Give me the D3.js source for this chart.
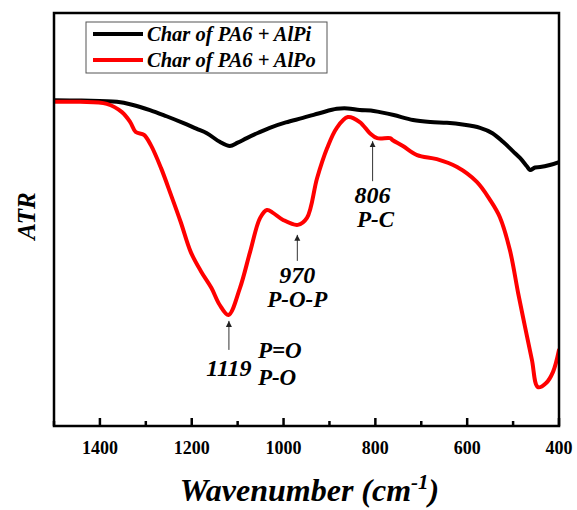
<!DOCTYPE html>
<html><head><meta charset="utf-8">
<script src="https://cdn.jsdelivr.net/npm/d3@7"></script>
<style>body{margin:0;background:#fff}svg{display:block}</style>
</head><body>
<svg id="c" width="577" height="510"></svg>
<script>
// ---- data ----
const seriesNames = ["Char of PA6 + AlPi", "Char of PA6 + AlPo"];
const seriesColors = ["#000000", "#ff0000"];

const wnAlPi  = [1500,1440,1363,1330,1291,1255,1219,1190,1167,1139,1117,1100,1080,1055,1030,995,958,920,884,860,834,810,790,760,718,680,644,610,572,545,522,500,485,470,463,452,441,420,400];
const atrAlPi = [78.9,78.8,78.5,77.8,76.5,75.0,73.4,72.0,70.9,68.8,67.8,68.6,69.7,71.0,72.2,73.5,74.6,75.8,76.8,76.9,76.5,76.4,76.0,75.3,74.1,73.6,73.4,73.0,72.2,70.9,68.8,66.5,64.9,62.9,62.0,62.6,62.7,63.2,63.9];

const wnAlPo  = [1500,1443,1385,1352,1334,1322,1304,1289,1267,1245,1224,1202,1179,1157,1139,1120,1095,1073,1051,1036,1023,1001,969,949,927,905,884,860,834,812,796,768,762,740,709,666,622,579,550,529,507,489,474,459,446,428,413,400];
const atrAlPo = [78.5,78.5,78.0,76.0,73.6,71.2,70.5,68.0,62.5,55.9,49.4,42.1,37.3,33.4,29.3,26.9,33.4,42.1,50.4,52.3,51.6,49.9,48.7,50.4,60.0,67.3,72.2,74.8,73.6,70.9,69.7,69.7,69.2,67.8,65.6,64.6,62.7,59.1,54.7,50.6,42.6,32.2,24.0,16.0,9.4,10.4,13.1,18.4];

const xTicks = [1400,1200,1000,800,600,400];
const xMinorTicks = [1500,1300,1100,900,700,500];

const annWn    = [1119, 970, 806];
const annLabel = ["1119", "970", "806"];
const annGroup = [["P=O","P-O"], ["P-O-P"], ["P-C"]];

// ---- layout ----
const svg = d3.select("#c");
const L = 54, R = 559, T = 13, B = 426;
const x = d3.scaleLinear().domain([1500, 400]).range([L, R]);
const y = d3.scaleLinear().domain([0, 100]).range([B, T]);
const serif = "'Liberation Serif','Times New Roman',serif";

const line = d3.line().x(d => x(d[0])).y(d => y(d[1])).curve(d3.curveCatmullRom.alpha(0.5));
const seriesData = [d3.zip(wnAlPi, atrAlPi), d3.zip(wnAlPo, atrAlPo)];

svg.append("defs").append("clipPath").attr("id","clip")
  .append("rect").attr("x",L).attr("y",T).attr("width",R-L).attr("height",B-T);

const g = svg.append("g").attr("clip-path","url(#clip)");
seriesData.forEach((d,i) => {
  g.append("path").datum(d).attr("d", line)
    .attr("fill","none").attr("stroke",seriesColors[i])
    .attr("stroke-width",4).attr("stroke-linejoin","round").attr("stroke-linecap","round");
});

// frame
svg.append("rect").attr("x",L).attr("y",T).attr("width",R-L).attr("height",B-T)
  .attr("fill","none").attr("stroke","#000").attr("stroke-width",2.5);

// x axis ticks (inward)
const ax = svg.append("g");
xTicks.forEach(t => {
  ax.append("line").attr("x1",x(t)).attr("x2",x(t)).attr("y1",B).attr("y2",B-8)
    .attr("stroke","#000").attr("stroke-width",2.5);
  ax.append("text").attr("x",x(t)).attr("y",B+28).attr("text-anchor","middle")
    .attr("font-family",serif).attr("font-weight","bold").attr("font-size",18).text(t);
});
xMinorTicks.forEach(t => {
  ax.append("line").attr("x1",x(t)).attr("x2",x(t)).attr("y1",B).attr("y2",B-5)
    .attr("stroke","#000").attr("stroke-width",2.5);
});

// axis titles
const xt = svg.append("text").attr("x",(L+R)/2+3).attr("y",501).attr("text-anchor","middle")
  .attr("font-family",serif).attr("font-weight","bold").attr("font-style","italic").attr("font-size",32);
xt.append("tspan").text("Wavenumber (cm");
xt.append("tspan").attr("dy",-12).attr("font-size",21).text("-1");
xt.append("tspan").attr("dy",12).text(")");

svg.append("text").attr("transform","translate(35,216) rotate(-90)").attr("text-anchor","middle")
  .attr("font-family",serif).attr("font-weight","bold").attr("font-style","italic").attr("font-size",25).text("ATR");

// legend
const lg = svg.append("g");
lg.append("rect").attr("x",86).attr("y",22).attr("width",241).attr("height",51)
  .attr("fill","#fff").attr("stroke","#555").attr("stroke-width",1);
seriesNames.forEach((n,i) => {
  const yy = 34 + i*26;
  lg.append("line").attr("x1",93).attr("x2",143).attr("y1",yy).attr("y2",yy)
    .attr("stroke",seriesColors[i]).attr("stroke-width",4);
  lg.append("text").attr("x",147).attr("y",yy+7).attr("font-family",serif)
    .attr("font-weight","bold").attr("font-style","italic").attr("font-size",20.5).text(n);
});

// annotations
const defs = svg.select("defs");
defs.append("marker").attr("id","ah").attr("viewBox","0 0 10 10").attr("refX",10).attr("refY",5)
  .attr("markerWidth",6).attr("markerHeight",8).attr("orient","auto").attr("markerUnits","userSpaceOnUse")
  .append("path").attr("d","M0,0 L10,5 L0,10 z").attr("fill","#222");

const tipGap = [6, 10, 8];
const arrowLen = [29, 26, 40];
const an = svg.append("g").attr("font-family",serif).attr("font-weight","bold").attr("font-style","italic");
annWn.forEach((w,i) => {
  const v = atrAlPo[wnAlPo.indexOf(w)] ?? d3.least(d3.zip(wnAlPo,atrAlPo), d => Math.abs(d[0]-w))[1];
  const tip = y(v) + tipGap[i];
  const tail = tip + arrowLen[i];
  an.append("line").attr("x1",x(w)).attr("x2",x(w)).attr("y1",tail).attr("y2",tip)
    .attr("stroke","#333").attr("stroke-width",1).attr("marker-end","url(#ah)");
  if (i === 0) {
    an.append("text").attr("x",x(w)).attr("y",tail+26).attr("text-anchor","middle").attr("font-size",24).text(annLabel[i]);
    annGroup[i].forEach((s,k) => an.append("text").attr("x",x(w)+29).attr("y",tail+8+k*27).attr("font-size",23).text(s));
  } else {
    an.append("text").attr("x",x(w)).attr("y",tail+22).attr("text-anchor","middle").attr("font-size",24).text(annLabel[i]);
    annGroup[i].forEach((s,k) => an.append("text").attr("x",x(w)+(i===2?3:0)).attr("y",tail+46+k*24).attr("text-anchor","middle").attr("font-size",23).text(s));
  }
});
</script>
</body></html>
